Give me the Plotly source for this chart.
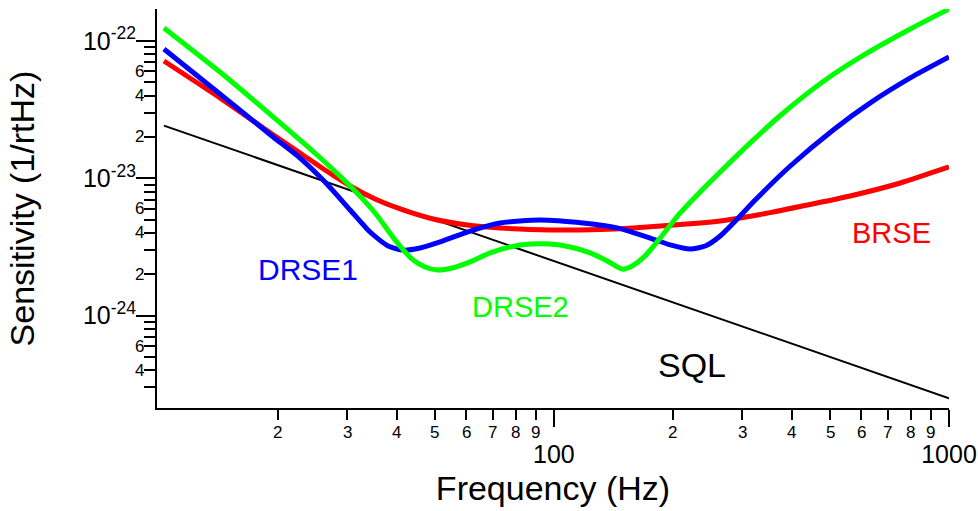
import numpy as np
import plotly.graph_objects as go

# ---- data (Hz, 1/rtHz) ----
brse_f = [10.31, 14.29, 19.48, 22.79, 26.36, 30.51, 35.29, 40.82, 49.5, 60.33, 73.1, 97.9, 131.0, 158.8,
          193.6, 234.6, 263.6, 333, 420, 562, 753, 1000]
brse_s = [7.15e-23, 3.85e-23, 2.07e-23, 1.529e-23, 1.149e-23, 8.79e-24, 7.07e-24, 5.98e-24, 5.05e-24, 4.57e-24,
          4.35e-24, 4.20e-24, 4.24e-24, 4.35e-24, 4.53e-24, 4.72e-24, 4.89e-24, 5.45e-24, 6.23e-24, 7.43e-24,
          9.24e-24, 1.209e-23]

drse1_f = [10.31, 14.29, 19.48, 22.79, 26.36, 30.51, 34.27, 38.07, 41.54, 45.86, 51.54, 60.33, 73.1, 92.3,
           118.6, 144.6, 175.3, 197.0, 221.3, 241.6, 263.6, 291.1, 323.3, 396.6, 509.4, 632.2, 798.0, 1000]
drse1_s = [8.74e-23, 4.11e-23, 2.00e-23, 1.405e-23, 9.40e-24, 5.88e-24, 4.06e-24, 3.21e-24, 3.00e-24, 3.11e-24,
           3.44e-24, 4.06e-24, 4.72e-24, 4.97e-24, 4.72e-24, 4.35e-24, 3.67e-24, 3.27e-24, 3.05e-24, 3.21e-24,
           3.80e-24, 5.05e-24, 6.95e-24, 1.229e-23, 2.25e-23, 3.54e-23, 5.38e-23, 7.64e-23]

drse2_f = [10.31, 14.29, 19.48, 25.17, 30.51, 35.29, 39.66, 43.78, 47.23, 50.65, 55.28, 61.39, 69.0, 77.5,
           87.1, 97.9, 110.0, 123.6, 136.5, 148.9, 157.8, 170.2, 185.8, 208.8, 234.6, 263.6, 314.0, 380.6,
           486.3, 621.2, 798.0, 1000]
drse2_s = [1.244e-22, 5.94e-23, 2.80e-23, 1.478e-23, 8.79e-24, 5.59e-24, 3.55e-24, 2.58e-24, 2.26e-24, 2.15e-24,
           2.22e-24, 2.46e-24, 2.86e-24, 3.16e-24, 3.32e-24, 3.32e-24, 3.16e-24, 2.86e-24, 2.50e-24, 2.18e-24,
           2.30e-24, 2.72e-24, 3.67e-24, 5.59e-24, 7.95e-24, 1.111e-23, 1.81e-23, 2.99e-23, 5.20e-23, 8.18e-23,
           1.223e-22, 1.71e-22]

sql_f = [10.31, 1000]
sql_s = [2.42e-23, 2.50e-25]

# tick definitions
x_major = [100, 1000]
x_major_text = ["100", "1000"]
x_minor = [20, 30, 40, 50, 60, 70, 80, 90, 200, 300, 400, 500, 600, 700, 800, 900]
x_minor_text = ["2", "3", "4", "5", "6", "7", "8", "9", "2", "3", "4", "5", "6", "7", "8", "9"]

y_major = [1e-24, 1e-23, 1e-22]
y_major_text = ["10<sup>-24</sup>", "10<sup>-23</sup>", "10<sup>-22</sup>"]
y_minor = [3e-25, 4e-25, 5e-25, 6e-25, 7e-25, 8e-25, 9e-25,
           2e-24, 3e-24, 4e-24, 5e-24, 6e-24, 7e-24, 8e-24, 9e-24,
           2e-23, 3e-23, 4e-23, 5e-23, 6e-23, 7e-23, 8e-23, 9e-23]
y_minor_labeled = [4e-25, 6e-25, 2e-24, 4e-24, 6e-24, 2e-23, 4e-23, 6e-23]
y_minor_labeled_text = ["4", "6", "2", "4", "6", "2", "4", "6"]

# curve labels: (text, freq, value, colour, size)
labels = [
    ("DRSE1", 23.8, 2.15e-24, "#0000FF", 30),
    ("DRSE2", 82.2, 1.16e-24, "#00FF00", 29),
    ("BRSE", 716, 4.0e-24, "#FF0000", 29),
    ("SQL", 224, 4.34e-25, "#000000", 34),
]

FONT = "Liberation Sans, Arial, sans-serif"

fig = go.Figure()
fig.add_trace(go.Scatter(x=sql_f, y=sql_s, mode="lines", line=dict(color="black", width=2), name="SQL"))
spline = dict(width=5, shape="spline", smoothing=0.6)
fig.add_trace(go.Scatter(x=brse_f, y=brse_s, mode="lines", line=dict(color="#FF0000", **spline), name="BRSE"))
fig.add_trace(go.Scatter(x=drse1_f, y=drse1_s, mode="lines", line=dict(color="#0000FF", **spline), name="DRSE1"))
fig.add_trace(go.Scatter(x=drse2_f, y=drse2_s, mode="lines", line=dict(color="#00FF00", **spline), name="DRSE2"))

annotations = []
for t, f, v, c, s in labels:
    annotations.append(dict(x=np.log10(f), y=np.log10(v), xref="x", yref="y", text=t, showarrow=False,
                            font=dict(family=FONT, size=s, color=c), xanchor="center", yanchor="middle"))
for v, t in zip(x_minor, x_minor_text):
    annotations.append(dict(x=np.log10(v), y=0, xref="x", yref="paper", text=t, showarrow=False,
                            font=dict(family=FONT, size=17, color="black"), xanchor="center", yanchor="top",
                            yshift=-13))
for v, t in zip(y_minor_labeled, y_minor_labeled_text):
    annotations.append(dict(x=0, y=np.log10(v), xref="paper", yref="y", text=t, showarrow=False,
                            font=dict(family=FONT, size=17, color="black"), xanchor="right", yanchor="middle",
                            xshift=-11))

fig.update_layout(
    width=978, height=511,
    margin=dict(l=157, r=29, t=9, b=103),
    paper_bgcolor="white", plot_bgcolor="white",
    showlegend=False,
    font=dict(family=FONT, color="black"),
    annotations=annotations,
    xaxis=dict(
        type="log", range=[0.9957, 3.0], automargin=False,
        showgrid=False, zeroline=False,
        showline=True, linecolor="black", linewidth=2,
        ticks="outside", ticklen=17, tickwidth=2, tickcolor="black",
        tickmode="array", tickvals=x_major, ticktext=x_major_text,
        tickfont=dict(family=FONT, size=25), ticklabelstandoff=6,
        minor=dict(tickmode="array", tickvals=x_minor, ticks="outside", ticklen=10, tickwidth=2, tickcolor="black", showgrid=False),
        title=dict(text="Frequency (Hz)", font=dict(family=FONT, size=34), standoff=9),
    ),
    yaxis=dict(
        type="log", range=[-24.673, -21.767], automargin=False,
        showgrid=False, zeroline=False,
        showline=True, linecolor="black", linewidth=2,
        ticks="outside", ticklen=19, tickwidth=2, tickcolor="black",
        tickmode="array", tickvals=y_major, ticktext=y_major_text,
        tickfont=dict(family=FONT, size=25), ticklabelstandoff=-5,
        minor=dict(tickmode="array", tickvals=y_minor, ticks="outside", ticklen=11, tickwidth=2, tickcolor="black", showgrid=False),
        title=dict(text="Sensitivity (1/rtHz)", font=dict(family=FONT, size=34), standoff=38),
    ),
)

fig.write_html("out.html")
